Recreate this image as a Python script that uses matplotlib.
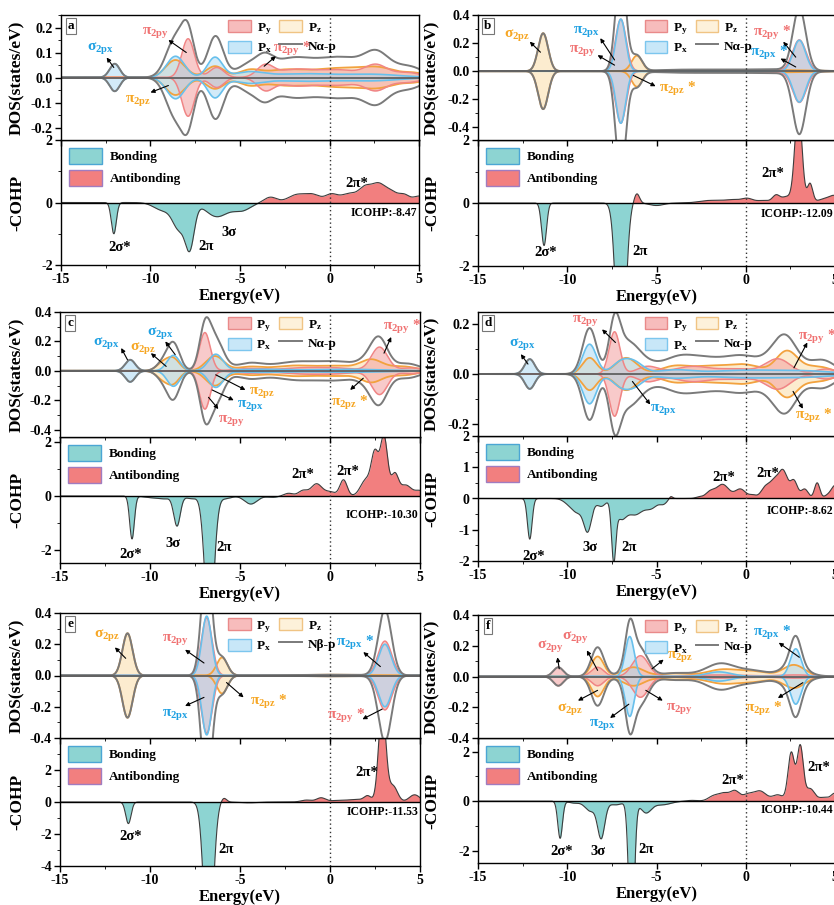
import numpy as np
import matplotlib
matplotlib.use("Agg")
import matplotlib.pyplot as plt
from matplotlib.patches import Patch
from matplotlib.lines import Line2D
from matplotlib.ticker import MultipleLocator, FormatStrFormatter, FixedLocator

plt.rcParams.update({
    'font.family': ['Liberation Serif', 'DejaVu Serif'],
    'font.weight': 'bold',
    'axes.labelweight': 'bold',
    'mathtext.default': 'regular',
    'axes.unicode_minus': False,
    'axes.linewidth': 1.0,
})

# ---------------- data: peaks (centre eV, height, width eV) ----------------
PANEL_LETTERS = ['a', 'b', 'c', 'd', 'e', 'f']
TOTAL_LABELS = ['Nα-p', 'Nα-p', 'Nα-p', 'Nα-p', 'Nβ-p', 'Nα-p']
ICOHP_VALUES = ['-8.47', '-12.09', '-10.30', '-8.62', '-11.53', '-10.44']

PY_A = [(-7.9, 0.155, 0.35), (-6.3, 0.04, 0.4), (-3.6, 0.045, 0.45), (-2.0, 0.03, 1.0),
        (0.5, 0.03, 1.2), (2.6, 0.045, 0.6), (4.3, 0.02, 0.8)]
PZ_A = [(-8.6, 0.07, 0.55), (-6.4, 0.045, 0.5), (-4.5, 0.025, 0.6), (-2.5, 0.03, 1.2),
        (0.5, 0.035, 1.3), (2.8, 0.035, 1.0), (4.8, 0.015, 0.6)]
PX_A = [(-12.0, 0.055, 0.28), (-8.6, 0.085, 0.5), (-6.4, 0.08, 0.42), (-4.5, 0.02, 0.8),
        (-1.5, 0.015, 1.8), (2.5, 0.012, 1.5)]
COHP_A = [(-12.05, -1.0, 0.14), (-9.3, -0.25, 0.5), (-8.4, -0.8, 0.35), (-7.8, -1.35, 0.25),
          (-6.3, -0.45, 0.6), (-4.9, -0.25, 0.5), (-3.3, 0.17, 0.35), (-1.8, 0.25, 0.5),
          (-0.9, 0.22, 0.4), (0.1, 0.25, 0.35), (1.1, 0.28, 0.45), (2.0, 0.45, 0.35),
          (2.7, 0.5, 0.35), (3.4, 0.35, 0.4), (4.2, 0.22, 0.3), (5.0, 0.2, 0.3)]

PY_B = [(-7.0, 0.37, 0.3), (3.0, 0.22, 0.38), (0.0, 0.008, 2.0)]
PZ_B = [(-11.35, 0.27, 0.28), (-6.1, 0.11, 0.3), (-3.0, 0.005, 1.5), (2.0, 0.008, 1.5)]
PX_B = [(-7.0, 0.37, 0.27), (3.0, 0.22, 0.35), (-4.0, 0.005, 1.5)]
COHP_B = [(-11.3, -1.35, 0.14), (-7.0, -6.0, 0.25), (-6.1, 0.3, 0.15), (-5.0, -0.08, 0.4),
          (-2.0, 0.08, 0.6), (-0.7, 0.1, 0.5), (0.1, 0.12, 0.3), (1.0, 0.08, 0.4),
          (1.7, 0.22, 0.2), (2.3, 0.2, 0.3), (2.95, 3.0, 0.2), (3.6, 0.6, 0.15),
          (4.4, 0.12, 0.4), (5.0, 0.2, 0.3)]

PY_C = [(-6.95, 0.26, 0.3), (-4.5, 0.015, 0.8), (-1.5, 0.02, 1.2), (0.5, 0.015, 1.0),
        (2.75, 0.16, 0.45), (4.5, 0.02, 0.6)]
PZ_C = [(-9.3, 0.05, 0.35), (-8.7, 0.08, 0.35), (-6.4, 0.1, 0.5), (-4.5, 0.025, 0.7),
        (-2.0, 0.035, 1.2), (0.5, 0.03, 1.0), (2.3, 0.07, 0.6), (4.0, 0.03, 0.8)]
PX_C = [(-11.1, 0.075, 0.28), (-8.7, 0.105, 0.35), (-6.35, 0.11, 0.4), (-4.0, 0.01, 1.5),
        (1.0, 0.01, 2.0)]
COHP_C = [(-11.0, -1.6, 0.13), (-10.0, -0.05, 0.4), (-9.2, -0.1, 0.4), (-8.5, -1.1, 0.18),
          (-7.7, -0.1, 0.3), (-6.7, -5.0, 0.25), (-5.8, -0.1, 0.3), (-4.4, -0.3, 0.35),
          (-3.2, -0.05, 0.3), (-2.3, 0.1, 0.25), (-1.5, 0.2, 0.25), (-0.75, 0.45, 0.3),
          (0.0, 0.15, 0.3), (0.75, 0.6, 0.2), (2.0, 0.6, 0.3), (2.5, 1.5, 0.2),
          (3.0, 2.2, 0.2), (3.6, 0.8, 0.2), (4.2, 0.4, 0.3), (5.0, 0.2, 0.3)]

PY_D = [(-7.35, 0.17, 0.3), (-5.5, 0.03, 0.6), (-3.0, 0.03, 1.0), (-0.5, 0.02, 1.0),
        (1.8, 0.06, 0.7), (4.5, 0.02, 0.6)]
PZ_D = [(-8.75, 0.065, 0.4), (-6.7, 0.065, 0.6), (-4.0, 0.03, 0.8), (-2.0, 0.03, 1.0),
        (0.0, 0.035, 0.9), (2.3, 0.09, 0.6), (4.0, 0.03, 0.8)]
PX_D = [(-12.1, 0.06, 0.28), (-8.75, 0.12, 0.38), (-7.0, 0.045, 0.5), (-6.2, 0.04, 0.5),
        (-4.0, 0.015, 1.0), (0.0, 0.015, 2.0), (3.5, 0.01, 1.5)]
COHP_D = [(-12.1, -1.3, 0.13), (-9.9, -0.15, 0.3), (-9.4, -0.4, 0.3), (-8.85, -1.0, 0.22),
          (-8.1, -0.25, 0.25), (-7.4, -1.8, 0.12), (-7.0, -0.6, 0.3), (-6.2, -0.5, 0.4),
          (-5.3, -0.3, 0.35), (-4.6, -0.15, 0.2), (-4.2, 0.08, 0.1), (-2.6, 0.05, 0.2),
          (-2.0, 0.2, 0.25), (-1.3, 0.45, 0.35), (-0.3, 0.3, 0.3), (0.4, 0.1, 0.2),
          (1.1, 0.35, 0.25), (1.6, 0.5, 0.25), (2.1, 0.85, 0.25), (2.7, 0.55, 0.2),
          (3.3, 0.3, 0.2), (4.0, 0.5, 0.15), (4.6, 0.1, 0.2), (5.0, 0.4, 0.2)]

PY_E = [(-6.85, 0.37, 0.3), (3.05, 0.22, 0.38)]
PZ_E = [(-11.25, 0.27, 0.28), (-6.0, 0.115, 0.3), (0.0, 0.005, 2.0)]
PX_E = [(-6.85, 0.38, 0.27), (3.05, 0.2, 0.35)]
COHP_E = [(-11.2, -1.35, 0.15), (-6.75, -10.0, 0.25), (-5.9, 0.25, 0.15), (-4.5, -0.05, 0.5),
          (-1.3, 0.12, 0.3), (-0.5, 0.25, 0.25), (0.5, 0.1, 0.5), (1.5, 0.15, 0.4),
          (2.1, 0.35, 0.2), (2.9, 6.0, 0.2), (3.5, 1.0, 0.25), (4.7, 0.45, 0.3)]

PY_F = [(-10.5, 0.06, 0.28), (-8.3, 0.06, 0.35), (-5.9, 0.135, 0.45), (-1.5, 0.01, 1.5),
        (2.8, 0.01, 1.0)]
PZ_F = [(-8.3, 0.13, 0.35), (-6.3, 0.06, 0.6), (-4.0, 0.02, 0.8), (-1.3, 0.045, 0.9),
        (0.5, 0.03, 0.8), (2.7, 0.075, 0.6)]
PX_F = [(-6.5, 0.26, 0.25), (-1.5, 0.03, 0.7), (2.8, 0.18, 0.3)]
COHP_F = [(-10.4, -1.5, 0.13), (-9.6, -0.08, 0.3), (-8.1, -1.45, 0.2), (-8.7, -0.4, 0.3),
          (-7.3, -0.15, 0.4), (-6.4, -6.0, 0.15), (-5.6, -0.45, 0.3), (-4.7, -0.15, 0.5),
          (-3.0, 0.03, 0.3), (-1.8, 0.2, 0.3), (-1.2, 0.3, 0.3), (-0.6, 0.38, 0.25),
          (0.1, 0.25, 0.3), (0.8, 0.4, 0.35), (1.8, 0.25, 0.3), (2.55, 1.95, 0.18),
          (3.05, 2.2, 0.17), (3.6, 0.5, 0.25), (4.4, 0.15, 0.3), (5.0, 0.3, 0.2)]

# ---------------- styles ----------------
PY_FILL, PY_EDGE = '#f4a0a0', '#f08585'
PZ_FILL, PZ_EDGE = '#fbe6c0', '#f2a23e'
PX_FILL, PX_EDGE = '#a6d6f2', '#68c0ec'
LEG_PY, LEG_PZ, LEG_PX = ('#f7bcbc', '#e98a8a'), ('#fdf1da', '#f0c484'), ('#c8e7f8', '#7cc6ee')
TOT_C = '#7a7a7a'
BOND_C, ANTI_C = '#8dd4d2', '#f27f7f'
BLUE, RED, ORANGE = '#1ea0e2', '#f07272', '#f6a623'

# ---------------- annotation layout ----------------
ANN = {
    'a': [('σ$_{2px}$', BLUE, (-12.8, 0.12), (-12.45, 0.08), (-12.05, 0.04)),
          ('π$_{2py}$', RED, (-9.7, 0.18), (-9.0, 0.15), (-8.0, 0.10)),
          ('π$_{2py}$ *', RED, (-2.1, 0.115), (-3.0, 0.085), (-3.65, 0.045)),
          ('π$_{2pz}$', ORANGE, (-10.7, -0.09), (-10.0, -0.06), (-9.0, -0.032))],
    'b': [('σ$_{2pz}$', ORANGE, (-12.8, 0.255), (-12.1, 0.21), (-11.5, 0.135)),
          ('π$_{2px}$', BLUE, (-8.9, 0.28), (-8.15, 0.235), (-7.35, 0.08)),
          ('π$_{2py}$', RED, (-9.15, 0.15), (-8.3, 0.114), (-7.35, 0.043)),
          ('π$_{2pz}$ *', ORANGE, (-3.8, -0.125), (-5.05, -0.107), (-6.3, -0.03)),
          ('π$_{2py}$ *', RED, (1.5, 0.27), (2.1, 0.21), (2.8, 0.1)),
          ('π$_{2px}$ *', BLUE, (1.3, 0.13), (1.95, 0.09), (2.8, 0.03))],
    'c': [('σ$_{2px}$', BLUE, (-12.4, 0.19), (-11.6, 0.155), (-11.25, 0.075)),
          ('σ$_{2pz}$', ORANGE, (-10.4, 0.155), (-9.95, 0.12), (-9.1, 0.03)),
          ('σ$_{2px}$', BLUE, (-9.4, 0.26), (-9.15, 0.2), (-8.6, 0.11)),
          ('π$_{2pz}$', ORANGE, (-3.8, -0.15), (-4.7, -0.13), (-6.35, -0.027)),
          ('π$_{2px}$', BLUE, (-4.4, -0.235), (-5.35, -0.2), (-6.55, -0.13)),
          ('π$_{2py}$', RED, (-5.5, -0.335), (-6.2, -0.26), (-6.75, -0.18)),
          ('π$_{2py}$ *', RED, (4.0, 0.3), (3.4, 0.23), (3.0, 0.12)),
          ('π$_{2pz}$ *', ORANGE, (1.1, -0.22), (1.12, -0.13), (1.85, -0.05))],
    'd': [('σ$_{2px}$', BLUE, (-12.5, 0.12), (-12.6, 0.08), (-12.2, 0.04)),
          ('π$_{2py}$', RED, (-9.0, 0.215), (-8.05, 0.18), (-7.3, 0.127)),
          ('π$_{2px}$', BLUE, (-4.6, -0.145), (-5.35, -0.123), (-6.35, -0.03)),
          ('π$_{2py}$ *', RED, (4.0, 0.148), (3.45, 0.127), (2.7, 0.025)),
          ('π$_{2pz}$ *', ORANGE, (3.8, -0.17), (3.2, -0.14), (2.65, -0.07))],
    'e': [('σ$_{2pz}$', ORANGE, (-12.4, 0.26), (-11.95, 0.18), (-11.35, 0.11)),
          ('π$_{2py}$', RED, (-8.6, 0.23), (-8.05, 0.165), (-7.0, 0.08)),
          ('π$_{2px}$', BLUE, (-8.6, -0.25), (-8.05, -0.195), (-7.0, -0.14)),
          ('π$_{2pz}$ *', ORANGE, (-3.4, -0.17), (-4.8, -0.14), (-5.75, -0.045)),
          ('π$_{2px}$ *', BLUE, (1.4, 0.21), (1.85, 0.15), (2.8, 0.057)),
          ('π$_{2py}$ *', RED, (0.9, -0.26), (1.8, -0.28), (2.9, -0.215))],
    'f': [('σ$_{2py}$', RED, (-10.95, 0.2), (-10.55, 0.125), (-10.45, 0.05)),
          ('σ$_{2py}$', RED, (-9.55, 0.255), (-8.9, 0.17), (-8.3, 0.04)),
          ('σ$_{2pz}$', ORANGE, (-9.85, -0.21), (-9.4, -0.157), (-8.3, -0.09)),
          ('π$_{2px}$', BLUE, (-8.0, -0.31), (-7.6, -0.27), (-6.55, -0.18)),
          ('π$_{2pz}$', ORANGE, (-3.7, 0.13), (-4.6, 0.11), (-5.25, 0.05)),
          ('π$_{2py}$', RED, (-3.7, -0.21), (-4.65, -0.157), (-5.6, -0.09)),
          ('π$_{2px}$ *', BLUE, (1.5, 0.28), (1.85, 0.22), (3.0, 0.125)),
          ('π$_{2pz}$ *', ORANGE, (1.0, -0.21), (1.8, -0.14), (3.2, -0.04))],
}
LAB = {
    'a': [('2σ*', -11.7, -1.44), ('2π', -6.9, -1.41), ('3σ', -5.6, -0.96), ('2π*', 1.5, 0.6)],
    'b': [('2σ*', -11.2, -1.58), ('2π', -5.9, -1.55), ('2π*', 1.5, 0.94)],
    'c': [('2σ*', -11.05, -2.2), ('3σ', -8.7, -1.77), ('2π', -5.9, -1.92),
          ('2π*', -1.5, 0.8), ('2π*', 1.0, 0.9)],
    'd': [('2σ*', -11.9, -1.84), ('3σ', -8.7, -1.58), ('2π', -6.55, -1.58),
          ('2π*', -1.25, 0.68), ('2π*', 1.25, 0.8)],
    'e': [('2σ*', -11.05, -2.13), ('2π', -5.75, -2.97), ('2π*', 2.05, 1.87)],
    'f': [('2σ*', -10.3, -2.04), ('3σ', -8.25, -2.04), ('2π', -5.6, -1.96),
          ('2π*', -0.75, 0.84), ('2π*', 4.1, 1.36)],
}

# pixel boxes: left, top, middle, bottom, width
LAYOUT = {
    'a': (61, 15, 140, 265, 358), 'b': (478, 15, 140, 266, 357),
    'c': (60, 312, 437, 563, 360), 'd': (478, 312, 436, 561, 357),
    'e': (60, 613, 738, 866, 360), 'f': (478, 615, 738, 863, 357),
}
DOS_Y = {'a': ((-0.25, 0.25), 0.1, 0.05), 'b': ((-0.49, 0.4), 0.2, 0.1),
         'c': ((-0.45, 0.4), 0.2, 0.1), 'd': ((-0.25, 0.25), 0.2, 0.1),
         'e': ((-0.4, 0.4), 0.2, 0.1), 'f': ((-0.4, 0.4), 0.2, 0.1)}
COHP_Y = {'a': ((-2, 2), [-2, 0, 2], 1), 'b': ((-2, 2), [-2, 0, 2], 1),
          'c': ((-2.5, 2.2), [-2, 0, 2], 1), 'd': ((-2, 2), [-2, -1, 0, 1, 2], 0.5),
          'e': ((-4, 4), [-4, -2, 0, 2], 1), 'f': ((-2.5, 2.55), [-2, 0, 2], 1)}
ICOHP_Y = {'a': -0.32, 'b': -0.35, 'c': -0.72, 'd': -0.39, 'e': -0.64, 'f': -0.36}

DATA = {'a': (PY_A, PZ_A, PX_A, COHP_A), 'b': (PY_B, PZ_B, PX_B, COHP_B),
        'c': (PY_C, PZ_C, PX_C, COHP_C), 'd': (PY_D, PZ_D, PX_D, COHP_D),
        'e': (PY_E, PZ_E, PX_E, COHP_E), 'f': (PY_F, PZ_F, PX_F, COHP_F)}

E = np.linspace(-15, 5, 2001)


def broaden(spec):
    y = np.zeros_like(E)
    for c, h, s in spec:
        y += h * np.exp(-0.5 * ((E - c) / s) ** 2)
    return y


W, H = 834, 905
fig = plt.figure(figsize=(8.34, 9.05), dpi=100)


def rect(x0, y0, y1, w):
    return [x0 / W, 1 - y1 / H, w / W, (y1 - y0) / H]


TICK_FS = 10
ARROW = dict(arrowstyle='-|>', color='black', lw=0.8, mutation_scale=6, shrinkA=0, shrinkB=0)

for i, key in enumerate(PANEL_LETTERS):
    left, top, mid, bot, wid = LAYOUT[key]
    py_s, pz_s, px_s, cohp_s = DATA[key]
    label_x = ((25 if left < 400 else 440) - left) / wid
    axc = fig.add_axes(rect(left, mid, bot, wid))
    axd = fig.add_axes(rect(left, top, mid, wid))
    axc.patch.set_alpha(0)

    # ---------- DOS ----------
    py, pz, px = broaden(py_s), broaden(pz_s), broaden(px_s)
    tot = py + pz + px
    axd.fill_between(E, -pz, pz, color=PZ_FILL, alpha=0.75, lw=0)
    axd.fill_between(E, -py, py, color=PY_FILL, alpha=0.55, lw=0)
    axd.fill_between(E, -px, px, color=PX_FILL, alpha=0.5, lw=0)
    for arr, col, lw in [(pz, PZ_EDGE, 1.3), (py, PY_EDGE, 1.1), (px, PX_EDGE, 1.2), (tot, TOT_C, 1.4)]:
        axd.plot(E, arr, color=col, lw=lw)
        axd.plot(E, -arr, color=col, lw=lw)
    axd.axhline(0, color='#606060', lw=1.3)
    axd.axvline(0, color='#333333', ls=(0, (1, 2)), lw=1.0)
    axd.set_xlim(-15, 5)
    ylim, maj, mnr = DOS_Y[key]
    axd.set_ylim(*ylim)
    axd.yaxis.set_major_locator(MultipleLocator(maj))
    axd.yaxis.set_minor_locator(MultipleLocator(mnr))
    axd.yaxis.set_major_formatter(FormatStrFormatter('%.1f'))
    axd.xaxis.set_major_locator(MultipleLocator(5))
    axd.xaxis.set_minor_locator(MultipleLocator(2.5))
    axd.tick_params(axis='x', labelbottom=False, direction='out', length=4, width=1)
    axd.tick_params(axis='x', which='minor', direction='out', length=2)
    axd.tick_params(axis='y', labelsize=TICK_FS, length=4, width=1, pad=2)
    axd.tick_params(axis='y', which='minor', length=2)
    axd.set_ylabel('DOS(states/eV)', fontsize=12.5)
    axd.yaxis.set_label_coords(label_x, 0.5)

    axd.text(0.028, 0.91, key, transform=axd.transAxes, ha='center', va='center',
             fontsize=9.5, bbox=dict(boxstyle='square,pad=0.15', fc='white', ec='#777777', lw=0.8))

    handles = [Patch(facecolor=LEG_PY[0], edgecolor=LEG_PY[1], label='P$_y$'),
               Patch(facecolor=LEG_PX[0], edgecolor=LEG_PX[1], label='P$_x$'),
               Patch(facecolor=LEG_PZ[0], edgecolor=LEG_PZ[1], label='P$_z$'),
               Line2D([], [], color=TOT_C, lw=1.4, label=TOTAL_LABELS[i])]
    axd.legend(handles=handles, ncol=2, loc='upper left', bbox_to_anchor=(0.445, 1.02),
               frameon=False, fontsize=9.5, handlelength=1.7, handleheight=1.0,
               columnspacing=0.6, handletextpad=0.45, labelspacing=0.35, borderaxespad=0.2)

    for txt, col, tpos, head, tail in ANN[key]:
        axd.text(tpos[0], tpos[1], txt, color=col, fontsize=11, ha='center', va='center')
        axd.annotate('', xy=head, xytext=tail, arrowprops=ARROW)

    # ---------- COHP ----------
    yc = broaden(cohp_s)
    axc.fill_between(E, yc, 0, where=yc <= 0, interpolate=True, color=BOND_C, lw=0)
    axc.fill_between(E, yc, 0, where=yc >= 0, interpolate=True, color=ANTI_C, lw=0)
    axc.plot(E, yc, color='#3d3d3d', lw=0.8)
    axc.axhline(0, color='black', lw=1.0)
    axc.axvline(0, color='#333333', ls=(0, (1, 2)), lw=1.0)
    axc.set_xlim(-15, 5)
    cyl, cmaj, cmin = COHP_Y[key]
    axc.set_ylim(*cyl)
    axc.yaxis.set_major_locator(FixedLocator(cmaj))
    axc.yaxis.set_minor_locator(MultipleLocator(cmin))
    axc.xaxis.set_major_locator(MultipleLocator(5))
    axc.xaxis.set_minor_locator(MultipleLocator(2.5))
    axc.tick_params(labelsize=TICK_FS, length=4, width=1, pad=2)
    axc.tick_params(which='minor', length=2)
    axc.set_ylabel('-COHP', fontsize=12.5)
    axc.yaxis.set_label_coords(label_x, 0.5)
    axc.set_xlabel('Energy(eV)', fontsize=12, labelpad=1)

    axc.legend(handles=[Patch(facecolor=BOND_C, edgecolor='#4ba6d4', label='Bonding'),
                        Patch(facecolor=ANTI_C, edgecolor='#a07cc0', label='Antibonding')],
               loc='upper left', frameon=False, fontsize=9.5, handlelength=2.5,
               handleheight=1.5, labelspacing=0.45, borderaxespad=0.2, handletextpad=0.6)

    for txt, x, y in LAB[key]:
        axc.text(x, y, txt, fontsize=10.5, ha='center', va='center')
    axc.text(4.92, ICOHP_Y[key], 'ICOHP:' + ICOHP_VALUES[i], fontsize=8.5,
             ha='right', va='center')

fig.savefig('out.png', dpi=100)
